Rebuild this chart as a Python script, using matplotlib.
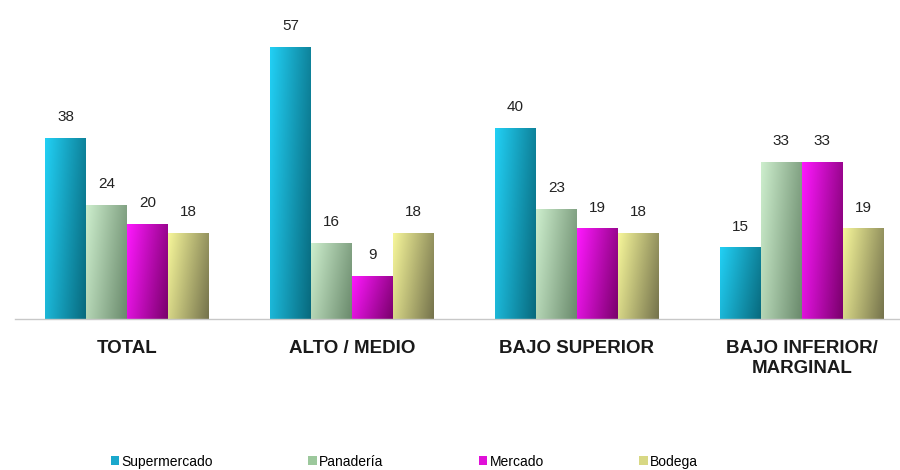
import numpy as np
import matplotlib
matplotlib.use('Agg')
import matplotlib.pyplot as plt
from matplotlib.colors import LinearSegmentedColormap
from matplotlib.patches import Patch

plt.rcParams['font.family'] = ['Liberation Sans Narrow', 'Liberation Sans', 'DejaVu Sans']

categories = ['TOTAL', 'ALTO / MEDIO', 'BAJO SUPERIOR', 'BAJO INFERIOR/\nMARGINAL']
series_names = ['Supermercado', 'Panadería', 'Mercado', 'Bodega']
supermercado = [38, 57, 40, 15]
panaderia = [24, 16, 23, 33]
mercado = [20, 9, 19, 33]
bodega = [18, 18, 18, 19]

# light -> dark shades for the gradient fill
shades = [('#22d0f5', '#086a7e'),
          ('#cdeecd', '#6a8a6c'),
          ('#ff18ff', '#7a006c'),
          ('#f6f69a', '#75734c')]
legend_colors = ['#1aa8cc', '#9cc89c', '#e010d8', '#d8d884']

fig = plt.figure(figsize=(9, 4.7), dpi=100)
ax = fig.add_axes([15 / 900, 0.321, 1 - 15 / 900, 0.630])

x = np.arange(len(categories))
width = 0.182
offsets = [-1.5, -0.5, 0.5, 1.5]
values = [supermercado, panaderia, mercado, bodega]

# gradient: darker to the right and slightly to the bottom
gx, gy = np.meshgrid(np.linspace(0, 1, 60), np.linspace(0, 1, 60))
grad = 0.75 * gx + 0.25 * gy

for vals, off, name, (c1, c2) in zip(values, offsets, series_names, shades):
    bars = ax.bar(x + off * width, vals, width, color=c1, label=name, linewidth=0)
    cmap = LinearSegmentedColormap.from_list(name, [c1, c2])
    for b, v in zip(bars, vals):
        x0, w, h = b.get_x(), b.get_width(), b.get_height()
        im = ax.imshow(grad, cmap=cmap, extent=(x0, x0 + w, 0, h),
                       origin='upper', aspect='auto', zorder=2, vmin=0, vmax=1)
        im.set_clip_path(b)
        ax.annotate(str(v), (x0 + w / 2, h), xytext=(0, 10),
                    textcoords='offset points', ha='center', va='bottom',
                    fontsize=11, color='#222222')

ax.set_xlim(-0.498, 3.436)
ax.set_ylim(0, 62)
ax.set_xticks(x)
ax.set_xticklabels(categories, fontsize=13.5, fontweight='bold', color='#1a1a1a',
                   linespacing=1.25)
ax.tick_params(axis='x', length=0, pad=15)
ax.set_yticks([])
for s in ['top', 'left', 'right']:
    ax.spines[s].set_visible(False)
ax.spines['bottom'].set_color('#c8c8c8')
ax.spines['bottom'].set_linewidth(1)

handles = [Patch(facecolor=c, edgecolor='none') for c in legend_colors]
fig.legend(handles, series_names, loc='lower left', bbox_to_anchor=(0.109, -0.024),
           ncol=4, frameon=False, fontsize=10, handlelength=0.6, handleheight=0.6,
           handletextpad=0.15, columnspacing=6.9)

fig.savefig('out.png', dpi=100)
